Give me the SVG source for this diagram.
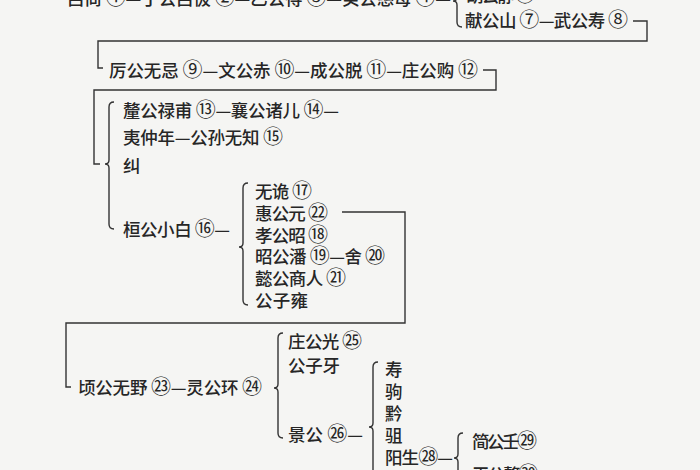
<svg xmlns="http://www.w3.org/2000/svg" width="700" height="470" viewBox="0 0 700 470">
<style>
  .t { font-family: "Noto Sans CJK SC", "Noto Sans CJK TC", sans-serif; font-size: 17.5px; font-weight: 500; fill: #262626; }
  .c { font-size: 20px; font-weight: 400; }
  .ln { fill: none; stroke: #333333; stroke-width: 1.4; stroke-linejoin: miter; }
</style>
<rect width="700" height="470" fill="#f5f5f3"/>
<g id="connectors" class="ln">
  <path d="M633,21 H647 V41 H98 V68 H103"/>
  <path d="M483,70 H496 V90 H94 V164 H100"/>
  <path d="M342,212 H405 V323 H66 V387 H71"/>
  <path d="M463,-8 Q457,-8 457,-3 V-3 Q457,1 453,1 Q457,1 457,5 V22 Q457,27 462,27"/>
  <path d="M114,102 Q109,102 109,107 V160 Q109,164 105,164 Q109,164 109,168 V224 Q109,229 114,229"/>
  <path d="M248,183 Q243,183 243,188 V243 Q243,247 239,247 Q243,247 243,251 V300 Q243,305 248,305"/>
  <path d="M283,333 Q278,333 278,338 V384 Q278,388 274,388 Q278,388 278,392 V433 Q278,438 283,438"/>
  <path d="M378,362 Q373,362 373,367 V423 Q373,427 369,427 Q373,427 373,431 V500"/>
  <path d="M463,433 Q458,433 458,438 V454 Q458,458 454,458 Q458,458 458,462 V477 Q458,482 463,482"/>
</g>
<g id="n-lvshang"><text class="t" x="67" y="5" textLength="384" lengthAdjust="spacing">吕尚 <tspan class="c">①</tspan>—丁公吕伋 <tspan class="c">②</tspan>—乙公得 <tspan class="c">③</tspan>—癸公慈母 <tspan class="c">④</tspan>—</text></g>
<g id="n-hugong"><text class="t" x="466" y="2" textLength="69" lengthAdjust="spacing">胡公静 <tspan class="c">⑥</tspan></text></g>
<g id="n-xiangong"><text class="t" x="465" y="26.5" textLength="163" lengthAdjust="spacing">献公山 <tspan class="c">⑦</tspan>—武公寿 <tspan class="c">⑧</tspan></text></g>
<g id="n-ligong"><text class="t" x="109" y="76.5" textLength="369" lengthAdjust="spacing">厉公无忌 <tspan class="c">⑨</tspan>—文公赤 <tspan class="c">⑩</tspan>—成公脱 <tspan class="c">⑪</tspan>—庄公购 <tspan class="c">⑫</tspan></text></g>
<g id="n-xigong"><text class="t" x="123" y="116.5" textLength="216" lengthAdjust="spacing">釐公禄甫 <tspan class="c">⑬</tspan>—襄公诸儿 <tspan class="c">⑭</tspan>—</text></g>
<g id="n-yizhongnian"><text class="t" x="123" y="143.5" textLength="160" lengthAdjust="spacing">夷仲年—公孙无知 <tspan class="c">⑮</tspan></text></g>
<g id="n-jiu"><text class="t" x="123" y="171.5">纠</text></g>
<g id="n-huangong"><text class="t" x="123" y="235.5" textLength="107" lengthAdjust="spacing">桓公小白 <tspan class="c">⑯</tspan>—</text></g>
<g id="n-wugui"><text class="t" x="255" y="197.5" textLength="57" lengthAdjust="spacing">无诡 <tspan class="c">⑰</tspan></text></g>
<g id="n-huigong"><text class="t" x="255" y="219.5" textLength="73" lengthAdjust="spacing">惠公元 <tspan class="c">㉒</tspan></text></g>
<g id="n-xiaogong"><text class="t" x="255" y="241.5" textLength="73" lengthAdjust="spacing">孝公昭 <tspan class="c">⑱</tspan></text></g>
<g id="n-zhaogong"><text class="t" x="255" y="262.5" textLength="130" lengthAdjust="spacing">昭公潘 <tspan class="c">⑲</tspan>—舍 <tspan class="c">⑳</tspan></text></g>
<g id="n-yigong"><text class="t" x="255" y="284.5" textLength="91" lengthAdjust="spacing">懿公商人 <tspan class="c">㉑</tspan></text></g>
<g id="n-gongziyong"><text class="t" x="255" y="306.5" textLength="53" lengthAdjust="spacing">公子雍</text></g>
<g id="n-qinggong"><text class="t" x="78" y="394" textLength="184" lengthAdjust="spacing">顷公无野 <tspan class="c">㉓</tspan>—灵公环 <tspan class="c">㉔</tspan></text></g>
<g id="n-zhuanggong"><text class="t" x="288" y="347.5" textLength="74" lengthAdjust="spacing">庄公光 <tspan class="c">㉕</tspan></text></g>
<g id="n-gongziya"><text class="t" x="288" y="372" textLength="52" lengthAdjust="spacing">公子牙</text></g>
<g id="n-jinggong"><text class="t" x="288" y="440.5" textLength="75" lengthAdjust="spacing">景公 <tspan class="c">㉖</tspan>—</text></g>
<g id="n-shou"><text class="t" x="385" y="376">寿</text></g>
<g id="n-ju"><text class="t" x="385" y="398">驹</text></g>
<g id="n-qian"><text class="t" x="385" y="419.5">黔</text></g>
<g id="n-zu"><text class="t" x="385" y="442">驵</text></g>
<g id="n-yangsheng"><text class="t" x="385" y="464" textLength="68" lengthAdjust="spacing">阳生<tspan class="c">㉘</tspan>—</text></g>
<g id="n-jiangong"><text class="t" x="472" y="448" textLength="65" lengthAdjust="spacing">简公壬<tspan class="c">㉙</tspan></text></g>
<g id="n-pinggong"><text class="t" x="472" y="481" textLength="80" lengthAdjust="spacing">平公骜<tspan class="c">㉚</tspan>—</text></g>
</svg>
